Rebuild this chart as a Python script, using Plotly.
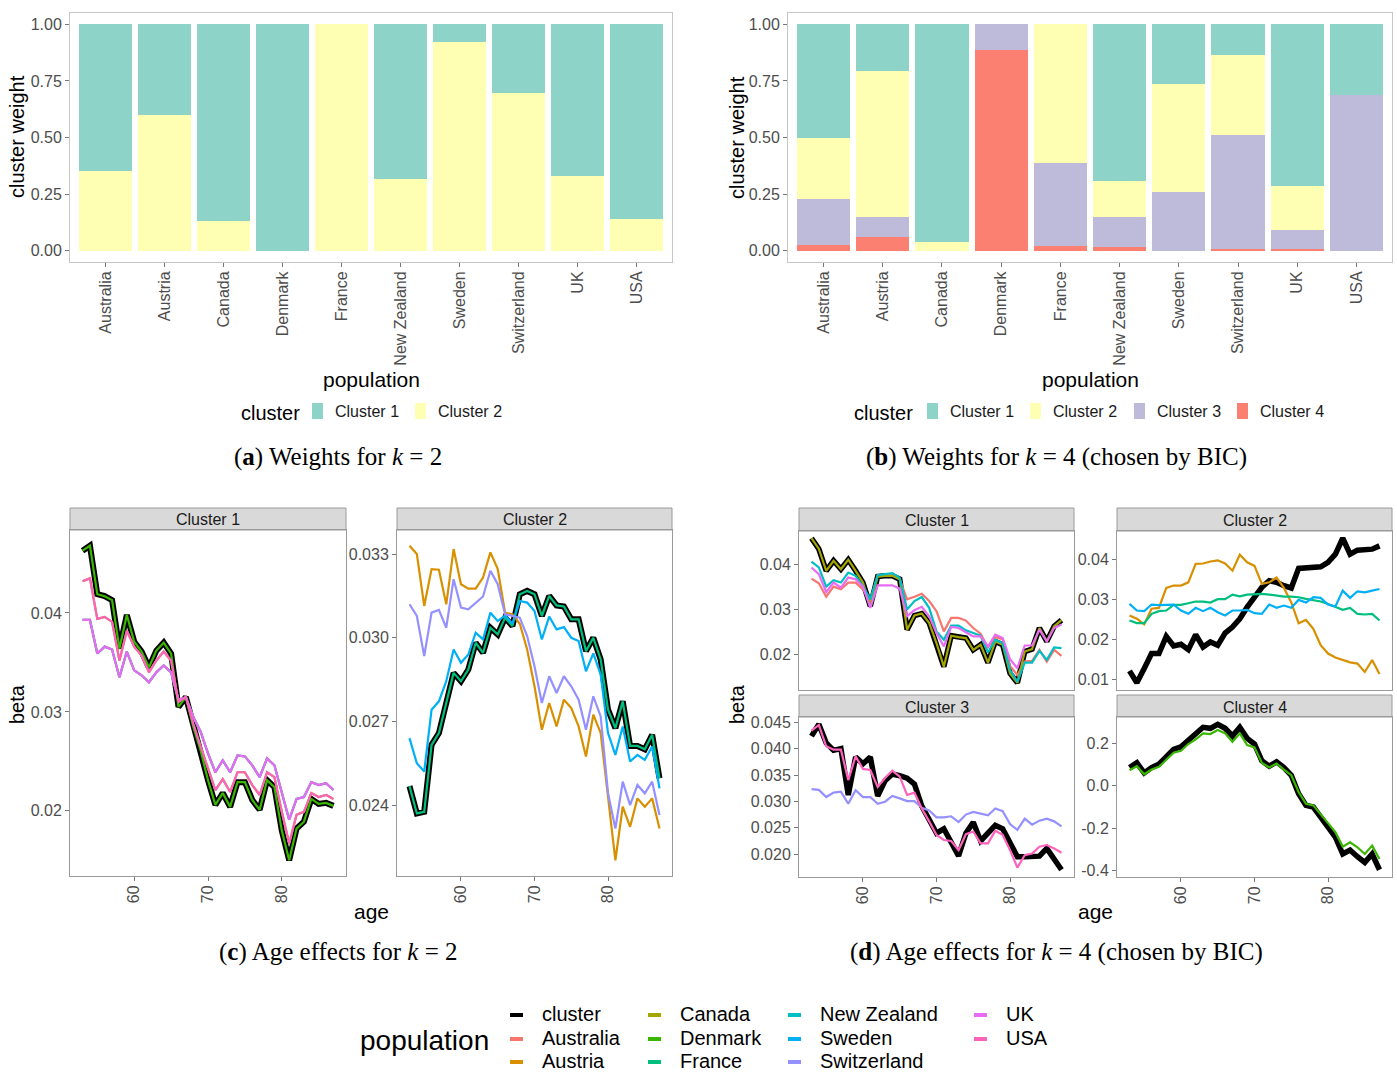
import plotly.graph_objects as go

W, H = 1397, 1074
SANS = "Liberation Sans, Arial, sans-serif"
SERIF = "Liberation Serif, Times New Roman, serif"

# ---------------------------------------------------------------- data
POPULATIONS = ["Australia", "Austria", "Canada", "Denmark", "France",
               "New Zealand", "Sweden", "Switzerland", "UK", "USA"]
POP_COLORS = {
    "cluster": "#000000", "Australia": "#F8766D", "Austria": "#D89000",
    "Canada": "#A3A500", "Denmark": "#39B600", "France": "#00BF7D",
    "New Zealand": "#00BFC4", "Sweden": "#00B0F6", "Switzerland": "#9590FF",
    "UK": "#E76BF3", "USA": "#FF62BC",
}
CLUSTER_NAMES = ["Cluster 1", "Cluster 2", "Cluster 3", "Cluster 4"]
CLUSTER_COLORS = ["#8DD3C7", "#FFFFB3", "#BEBADA", "#FB8072"]

# cluster weights, k = 2
K2_W_C1 = [0.650, 0.402, 0.868, 1.000, 0.000, 0.684, 0.079, 0.304, 0.669, 0.859]
K2_W_C2 = [0.350, 0.598, 0.132, 0.000, 1.000, 0.316, 0.921, 0.696, 0.331, 0.141]

# cluster weights, k = 4
K4_W_C1 = [0.500, 0.204, 0.963, 0.000, 0.000, 0.693, 0.262, 0.135, 0.716, 0.312]
K4_W_C2 = [0.270, 0.647, 0.037, 0.000, 0.612, 0.160, 0.479, 0.355, 0.193, 0.000]
K4_W_C3 = [0.205, 0.089, 0.000, 0.112, 0.368, 0.129, 0.259, 0.503, 0.082, 0.688]
K4_W_C4 = [0.025, 0.060, 0.000, 0.888, 0.020, 0.018, 0.000, 0.007, 0.009, 0.000]

AGES = list(range(53, 88))

# age effects, k = 2
K2_C1_CLUSTER = [0.0463, 0.0468, 0.0419, 0.0417, 0.0413, 0.0364, 0.0398, 0.0371, 0.0361, 0.0345,
                 0.0362, 0.0370, 0.0359, 0.0305, 0.0315, 0.0285, 0.0261, 0.0231, 0.0206, 0.0218,
                 0.0204, 0.0229, 0.0229, 0.0211, 0.0201, 0.0231, 0.0224, 0.0180, 0.0150, 0.0182,
                 0.0189, 0.0212, 0.0207, 0.0208, 0.0205]
K2_C1_HIGH = [0.0432, 0.0435, 0.0394, 0.0396, 0.0391, 0.0352, 0.0382, 0.0366, 0.0357, 0.0340,
              0.0352, 0.0361, 0.0352, 0.0310, 0.0315, 0.0288, 0.0265, 0.0244, 0.0221, 0.0232,
              0.0219, 0.0239, 0.0239, 0.0226, 0.0216, 0.0239, 0.0234, 0.0199, 0.0167, 0.0196,
              0.0199, 0.0218, 0.0214, 0.0216, 0.0212]
K2_C1_LOW = [0.0393, 0.0393, 0.0359, 0.0366, 0.0363, 0.0335, 0.0361, 0.0342, 0.0337, 0.0330,
             0.0340, 0.0347, 0.0340, 0.0312, 0.0315, 0.0295, 0.0280, 0.0258, 0.0239, 0.0251,
             0.0239, 0.0256, 0.0255, 0.0246, 0.0234, 0.0253, 0.0246, 0.0219, 0.0191, 0.0212,
             0.0214, 0.0229, 0.0226, 0.0228, 0.0221]
K2_C2_CLUSTER = [0.02468, 0.02370, 0.02376, 0.02616, 0.02658, 0.02766, 0.02874, 0.02844, 0.02886, 0.02982,
                 0.02946, 0.03036, 0.03012, 0.03072, 0.03042, 0.03156, 0.03168, 0.03156, 0.03078, 0.03150,
                 0.03116, 0.03112, 0.03066, 0.03066, 0.02952, 0.03000, 0.02922, 0.02742, 0.02676, 0.02772,
                 0.02612, 0.02612, 0.02600, 0.02652, 0.02496]
K2_C2_SWEDEN = [0.02640, 0.02550, 0.02520, 0.02742, 0.02772, 0.02844, 0.02958, 0.02910, 0.02940, 0.03018,
                0.02994, 0.03090, 0.03060, 0.03080, 0.03050, 0.03132, 0.03126, 0.03096, 0.02994, 0.03076,
                0.03030, 0.03038, 0.03000, 0.02988, 0.02880, 0.02944, 0.02868, 0.02658, 0.02580, 0.02682,
                0.02556, 0.02580, 0.02562, 0.02610, 0.02460]
K2_C2_SWITZERLAND = [0.03120, 0.03078, 0.02934, 0.03090, 0.03100, 0.03036, 0.03210, 0.03108, 0.03102, 0.03126,
                     0.03148, 0.03240, 0.03192, 0.03084, 0.03078, 0.03072, 0.03006, 0.02898, 0.02766, 0.02862,
                     0.02802, 0.02862, 0.02826, 0.02778, 0.02670, 0.02790, 0.02718, 0.02442, 0.02316, 0.02484,
                     0.02400, 0.02472, 0.02442, 0.02484, 0.02364]
K2_C2_AUSTRIA = [0.03330, 0.03300, 0.03114, 0.03246, 0.03244, 0.03120, 0.03318, 0.03192, 0.03176, 0.03176,
                 0.03216, 0.03306, 0.03246, 0.03090, 0.03084, 0.03050, 0.02958, 0.02826, 0.02670, 0.02766,
                 0.02682, 0.02778, 0.02748, 0.02682, 0.02574, 0.02724, 0.02658, 0.02418, 0.02202, 0.02394,
                 0.02322, 0.02424, 0.02394, 0.02424, 0.02316]

# age effects, k = 4
K4_C1_CLUSTER = [0.04594, 0.04353, 0.03865, 0.04090, 0.03902, 0.04113, 0.03865, 0.03602, 0.03075, 0.03737,
                 0.03752, 0.03752, 0.03677, 0.02549, 0.02865, 0.02910, 0.02700, 0.02248, 0.01722, 0.02414,
                 0.02383, 0.02361, 0.02098, 0.02211, 0.01812, 0.02286, 0.02211, 0.01571, 0.01361, 0.02060,
                 0.02113, 0.02586, 0.02286, 0.02624, 0.02760]
K4_C1_NZ = [0.04068, 0.03940, 0.03511, 0.03654, 0.03602, 0.03827, 0.03752, 0.03526, 0.03226, 0.03767,
            0.03790, 0.03812, 0.03707, 0.03000, 0.03188, 0.03278, 0.03038, 0.02511, 0.02323, 0.02639,
            0.02639, 0.02534, 0.02474, 0.02414, 0.02038, 0.02323, 0.02248, 0.01647, 0.01383, 0.01812,
            0.01812, 0.02075, 0.01872, 0.02150, 0.02135]
K4_C1_AUSTRALIA = [0.03692, 0.03586, 0.03286, 0.03511, 0.03451, 0.03602, 0.03602, 0.03451, 0.03188, 0.03767,
                   0.03767, 0.03767, 0.03677, 0.03226, 0.03286, 0.03353, 0.03188, 0.02962, 0.02511, 0.02812,
                   0.02812, 0.02752, 0.02586, 0.02459, 0.02150, 0.02383, 0.02338, 0.01737, 0.01534, 0.01835,
                   0.01850, 0.02098, 0.01835, 0.02098, 0.01962]
K4_C1_UK = [0.03940, 0.03790, 0.03391, 0.03602, 0.03489, 0.03714, 0.03677, 0.03511, 0.03038, 0.03541,
            0.03541, 0.03541, 0.03466, 0.02850, 0.02985, 0.03060, 0.02850, 0.02474, 0.02173, 0.02609,
            0.02586, 0.02489, 0.02398, 0.02398, 0.02173, 0.02436, 0.02361, 0.01887, 0.01684, 0.02195,
            0.02195, 0.02549, 0.02286, 0.02586, 0.02662]
K4_C2_CLUSTER = [0.01208, 0.00910, 0.01266, 0.01639, 0.01639, 0.02070, 0.01829, 0.01871, 0.01738, 0.02111,
                 0.01804, 0.01929, 0.01846, 0.02152, 0.02302, 0.02509, 0.02799, 0.03064, 0.03296, 0.03461,
                 0.03420, 0.03337, 0.03279, 0.03768, 0.03776, 0.03776, 0.03809, 0.03917, 0.04124, 0.04522,
                 0.04124, 0.04224, 0.04249, 0.04249, 0.04331]
K4_C2_AUSTRIA = [0.0259, 0.0251, 0.0237, 0.0276, 0.0278, 0.0328, 0.0334, 0.0334, 0.0342, 0.0388,
                 0.0389, 0.0394, 0.0397, 0.0389, 0.0371, 0.0411, 0.0392, 0.0383, 0.0338, 0.0342,
                 0.0354, 0.0328, 0.0292, 0.0240, 0.0248, 0.0226, 0.0185, 0.0164, 0.0154, 0.0147,
                 0.0142, 0.0139, 0.0118, 0.0148, 0.0113]
K4_C2_FRANCE = [0.02467, 0.02400, 0.02400, 0.02633, 0.02700, 0.02716, 0.02857, 0.02857, 0.02898, 0.02940,
                0.02940, 0.02915, 0.03000, 0.03000, 0.03114, 0.03072, 0.03114, 0.03130, 0.03130, 0.03114,
                0.03089, 0.03064, 0.03064, 0.03047, 0.03006, 0.02981, 0.02940, 0.02880, 0.02815, 0.02732,
                0.02782, 0.02633, 0.02616, 0.02633, 0.02467]
K4_C2_SWEDEN = [0.02882, 0.02716, 0.02700, 0.02865, 0.02848, 0.02865, 0.02865, 0.02716, 0.02633, 0.02782,
                0.02700, 0.02782, 0.02674, 0.02592, 0.02716, 0.02716, 0.02732, 0.02650, 0.02633, 0.02865,
                0.02782, 0.02840, 0.02782, 0.02981, 0.02915, 0.03047, 0.03031, 0.02865, 0.02815, 0.03213,
                0.03031, 0.03196, 0.03171, 0.03213, 0.03254]
K4_C3_CLUSTER = [0.04237, 0.04462, 0.04109, 0.03968, 0.04000, 0.03122, 0.03840, 0.03712, 0.03840, 0.03103,
                 0.03391, 0.03519, 0.03487, 0.03442, 0.03327, 0.02910, 0.02654, 0.02397, 0.02481, 0.02205,
                 0.01968, 0.02397, 0.02603, 0.02250, 0.02397, 0.02545, 0.02481, 0.02224, 0.01949, 0.01949,
                 0.01962, 0.01962, 0.02109, 0.01917, 0.01705]
K4_C3_USA = [0.04340, 0.04449, 0.04045, 0.03981, 0.03981, 0.03404, 0.03853, 0.03615, 0.03596, 0.03276,
             0.03442, 0.03583, 0.03468, 0.03122, 0.03167, 0.02865, 0.02622, 0.02365, 0.02269, 0.02250,
             0.02077, 0.02378, 0.02430, 0.02205, 0.02205, 0.02442, 0.02365, 0.02077, 0.01744, 0.01981,
             0.02013, 0.02141, 0.02173, 0.02109, 0.02026]
K4_C3_SWITZERLAND = [0.03231, 0.03218, 0.03083, 0.03167, 0.03186, 0.02955, 0.03212, 0.03083, 0.03083, 0.02955,
                     0.02994, 0.03103, 0.03058, 0.03006, 0.03006, 0.02878, 0.02827, 0.02699, 0.02699, 0.02718,
                     0.02609, 0.02750, 0.02801, 0.02763, 0.02737, 0.02865, 0.02814, 0.02570, 0.02462, 0.02673,
                     0.02558, 0.02635, 0.02673, 0.02622, 0.02526]
K4_C4_CLUSTER = [0.0863, 0.1084, 0.0611, 0.0863, 0.1021, 0.1369, 0.1716, 0.1842, 0.2126, 0.2395,
                 0.2758, 0.2710, 0.2900, 0.2710, 0.2347, 0.2758, 0.2237, 0.1968, 0.1179, 0.0927,
                 0.1132, 0.0863, 0.0500, -0.0368, -0.0920, -0.0999, -0.1441, -0.1915, -0.2420, -0.3209,
                 -0.3020, -0.3335, -0.3604, -0.3209, -0.3950]
K4_C4_DENMARK = [0.0737, 0.0927, 0.0548, 0.0769, 0.0895, 0.1211, 0.1558, 0.1653, 0.1968, 0.2189,
                 0.2474, 0.2442, 0.2631, 0.2474, 0.2079, 0.2474, 0.1921, 0.1811, 0.1084, 0.0863,
                 0.1053, 0.0769, 0.0500, -0.0289, -0.0841, -0.0920, -0.1315, -0.1757, -0.2183, -0.2862,
                 -0.2657, -0.2894, -0.3209, -0.2815, -0.3446]


# ---------------------------------------------------------------- helpers
def fx(px):
    return px / W


def fy(py):
    return 1 - py / H


def expanded(series_list, frac=0.05):
    lo = min(min(s) for s in series_list)
    hi = max(max(s) for s in series_list)
    pad = (hi - lo) * frac
    return [lo - pad, hi + pad]


TICKFONT = dict(family=SANS, size=16, color="#4D4D4D")
fig = go.Figure()
layout_axes = {}
shapes = []
annotations = []


def text(x, y, s, size, color="#000000", family=SANS, xanchor="center", angle=0):
    annotations.append(dict(x=fx(x), y=fy(y), xref="paper", yref="paper", text=s,
                            showarrow=False, xanchor=xanchor, yanchor="middle",
                            textangle=angle, font=dict(family=family, size=size, color=color)))


# ---------------------------------------------------------------- weight bar panels
BAR_PANELS = [
    dict(n="", weights=[K2_W_C1, K2_W_C2], box=(70, 672, 13, 262)),
    dict(n="2", weights=[K4_W_C1, K4_W_C2, K4_W_C3, K4_W_C4], box=(788, 1392, 13, 262)),
]
for p in BAR_PANELS:
    # plotted bottom-up so that Cluster 1 sits on top of each stack
    for idx in reversed(range(len(p["weights"]))):
        fig.add_trace(go.Bar(
            x=POPULATIONS, y=p["weights"][idx], name=CLUSTER_NAMES[idx],
            marker=dict(color=CLUSTER_COLORS[idx], line=dict(width=0)),
            xaxis="x" + p["n"], yaxis="y" + p["n"], showlegend=False,
            hovertemplate="%{x}: %{y:.3f}<extra>" + CLUSTER_NAMES[idx] + "</extra>"))
    x0, x1, y0, y1 = p["box"]
    layout_axes["xaxis" + p["n"]] = dict(
        domain=[fx(x0), fx(x1)], anchor="y" + p["n"], type="category", automargin=False,
        range=[-0.6, len(POPULATIONS) - 0.4], tickangle=-90, ticklabelstandoff=-2,
        showgrid=False, zeroline=False, showline=True, mirror=True, linecolor="#C6C6C6",
        ticks="outside", ticklen=4, tickcolor="#777777", tickfont=TICKFONT)
    layout_axes["yaxis" + p["n"]] = dict(
        domain=[fy(y1), fy(y0)], anchor="x" + p["n"], range=[-0.05, 1.05], automargin=False,
        tickvals=[0, 0.25, 0.5, 0.75, 1.0], ticktext=["0.00", "0.25", "0.50", "0.75", "1.00"],
        showgrid=False, zeroline=False, showline=True, mirror=True, linecolor="#C6C6C6",
        ticks="outside", ticklen=4, tickcolor="#777777", tickfont=TICKFONT)

# ---------------------------------------------------------------- age-effect facets
FACETS = [
    dict(n="3", label="Cluster 1", box=(70, 346, 530, 876), strip=(508, 530), xticks=True,
         cluster=K2_C1_CLUSTER, lw=6,
         lines=[("Australia", K2_C1_LOW), ("Canada", K2_C1_HIGH), ("Denmark", K2_C1_CLUSTER),
                ("New Zealand", K2_C1_LOW), ("UK", K2_C1_LOW), ("USA", K2_C1_HIGH)],
         ticks=[0.02, 0.03, 0.04], fmt="{:.2f}"),
    dict(n="4", label="Cluster 2", box=(397, 672, 530, 876), strip=(508, 530), xticks=True,
         cluster=K2_C2_CLUSTER, lw=6,
         lines=[("Austria", K2_C2_AUSTRIA), ("France", K2_C2_CLUSTER), ("Sweden", K2_C2_SWEDEN),
                ("Switzerland", K2_C2_SWITZERLAND)],
         ticks=[0.024, 0.027, 0.030, 0.033], fmt="{:.3f}"),
    dict(n="5", label="Cluster 1", box=(799, 1074, 531, 690), strip=(508, 531), xticks=False,
         cluster=K4_C1_CLUSTER, lw=5.5,
         lines=[("Australia", K4_C1_AUSTRALIA), ("Canada", K4_C1_CLUSTER), ("New Zealand", K4_C1_NZ),
                ("UK", K4_C1_UK)],
         ticks=[0.02, 0.03, 0.04], fmt="{:.2f}"),
    dict(n="6", label="Cluster 2", box=(1117, 1392, 531, 690), strip=(508, 531), xticks=False,
         cluster=K4_C2_CLUSTER, lw=5.5,
         lines=[("Austria", K4_C2_AUSTRIA), ("France", K4_C2_FRANCE), ("Sweden", K4_C2_SWEDEN)],
         ticks=[0.01, 0.02, 0.03, 0.04], fmt="{:.2f}"),
    dict(n="7", label="Cluster 3", box=(799, 1074, 717, 877), strip=(695, 717), xticks=True,
         cluster=K4_C3_CLUSTER, lw=5.5,
         lines=[("Switzerland", K4_C3_SWITZERLAND), ("USA", K4_C3_USA)],
         ticks=[0.020, 0.025, 0.030, 0.035, 0.040, 0.045], fmt="{:.3f}"),
    dict(n="8", label="Cluster 4", box=(1117, 1392, 717, 877), strip=(695, 717), xticks=True,
         cluster=K4_C4_CLUSTER, lw=5.5,
         lines=[("Denmark", K4_C4_DENMARK)],
         ticks=[-0.4, -0.2, 0.0, 0.2], fmt="{:.1f}"),
]
age_pad = (AGES[-1] - AGES[0]) * 0.05
for f in FACETS:
    xa, ya = "x" + f["n"], "y" + f["n"]
    fig.add_trace(go.Scatter(x=AGES, y=f["cluster"], mode="lines", name="cluster",
                             line=dict(color=POP_COLORS["cluster"], width=f["lw"]),
                             xaxis=xa, yaxis=ya, showlegend=False))
    for pop, vals in f["lines"]:
        fig.add_trace(go.Scatter(x=AGES, y=vals, mode="lines", name=pop,
                                 line=dict(color=POP_COLORS[pop], width=2.2),
                                 xaxis=xa, yaxis=ya, showlegend=False))
    x0, x1, y0, y1 = f["box"]
    layout_axes["xaxis" + f["n"]] = dict(
        domain=[fx(x0), fx(x1)], anchor=ya, range=[AGES[0] - age_pad, AGES[-1] + age_pad],
        tickvals=[60, 70, 80], tickangle=-90, showticklabels=f["xticks"], automargin=False,
        ticklabelstandoff=-2,
        ticks="outside" if f["xticks"] else "", ticklen=4, tickcolor="#777777",
        showgrid=False, zeroline=False, showline=True, mirror=True, linecolor="#9A9A9A",
        tickfont=TICKFONT)
    layout_axes["yaxis" + f["n"]] = dict(
        domain=[fy(y1), fy(y0)], anchor=xa, automargin=False,
        range=expanded([f["cluster"]] + [v for _, v in f["lines"]]),
        tickvals=f["ticks"], ticktext=[f["fmt"].format(t) for t in f["ticks"]],
        ticks="outside", ticklen=4, tickcolor="#777777",
        showgrid=False, zeroline=False, showline=True, mirror=True, linecolor="#9A9A9A",
        tickfont=TICKFONT)
    s0, s1 = f["strip"]
    shapes.append(dict(type="rect", xref="paper", yref="paper", x0=fx(x0), x1=fx(x1),
                       y0=fy(s1), y1=fy(s0), fillcolor="#D9D9D9",
                       line=dict(color="#9A9A9A", width=1), layer="below"))
    text((x0 + x1) / 2, (s0 + s1) / 2 + 1, f["label"], 16, "#1A1A1A")

# ---------------------------------------------------------------- axis titles
text(17, 137, "cluster weight", 20, angle=-90)
text(737, 137, "cluster weight", 20, angle=-90)
text(371, 379, "population", 21)
text(1090, 379, "population", 21)
text(17, 704, "beta", 20, angle=-90)
text(737, 704, "beta", 20, angle=-90)
text(371, 911, "age", 21)
text(1095, 911, "age", 21)

# ---------------------------------------------------------------- cluster legends
CLUSTER_LEGENDS = [
    dict(title_right=302, n=2, squares=[312, 415]),
    dict(title_right=915, n=4, squares=[927, 1030, 1134, 1237]),
]
for lg in CLUSTER_LEGENDS:
    text(lg["title_right"], 413, "cluster", 20, xanchor="right")
    for i in range(lg["n"]):
        sx = lg["squares"][i]
        shapes.append(dict(type="rect", xref="paper", yref="paper", x0=fx(sx), x1=fx(sx + 11),
                           y0=fy(419), y1=fy(403), fillcolor=CLUSTER_COLORS[i], line=dict(width=0)))
        text(sx + 21, 411, CLUSTER_NAMES[i], 16, "#1A1A1A", xanchor="left")

# ---------------------------------------------------------------- population legend
text(425, 1040, "population", 28)
legend_keys = ["cluster"] + POPULATIONS
col_x = [510, 648, 788, 974]
row_y = [1015, 1039, 1062]
for k, name in enumerate(legend_keys):
    cx, ry = col_x[k // 3], row_y[k % 3]
    shapes.append(dict(type="line", xref="paper", yref="paper", x0=fx(cx), x1=fx(cx + 13),
                       y0=fy(ry), y1=fy(ry), line=dict(color=POP_COLORS[name], width=4)))
    text(cx + 30, ry - 1, name, 20, xanchor="left")

# ---------------------------------------------------------------- sub-captions
text(338, 457, "(<b>a</b>) Weights for <i>k</i> = 2", 25, family=SERIF)
text(1056, 457, "(<b>b</b>) Weights for <i>k</i> = 4 (chosen by BIC)", 25, family=SERIF)
text(338, 952, "(<b>c</b>) Age effects for <i>k</i> = 2", 25, family=SERIF)
text(1056, 952, "(<b>d</b>) Age effects for <i>k</i> = 4 (chosen by BIC)", 25, family=SERIF)

fig.update_layout(
    width=W, height=H, margin=dict(l=0, r=0, t=0, b=0, pad=0, autoexpand=False),
    paper_bgcolor="white", plot_bgcolor="white",
    barmode="stack", bargap=0.1, showlegend=False,
    shapes=shapes, annotations=annotations, **layout_axes)

fig.write_html("out.html")
